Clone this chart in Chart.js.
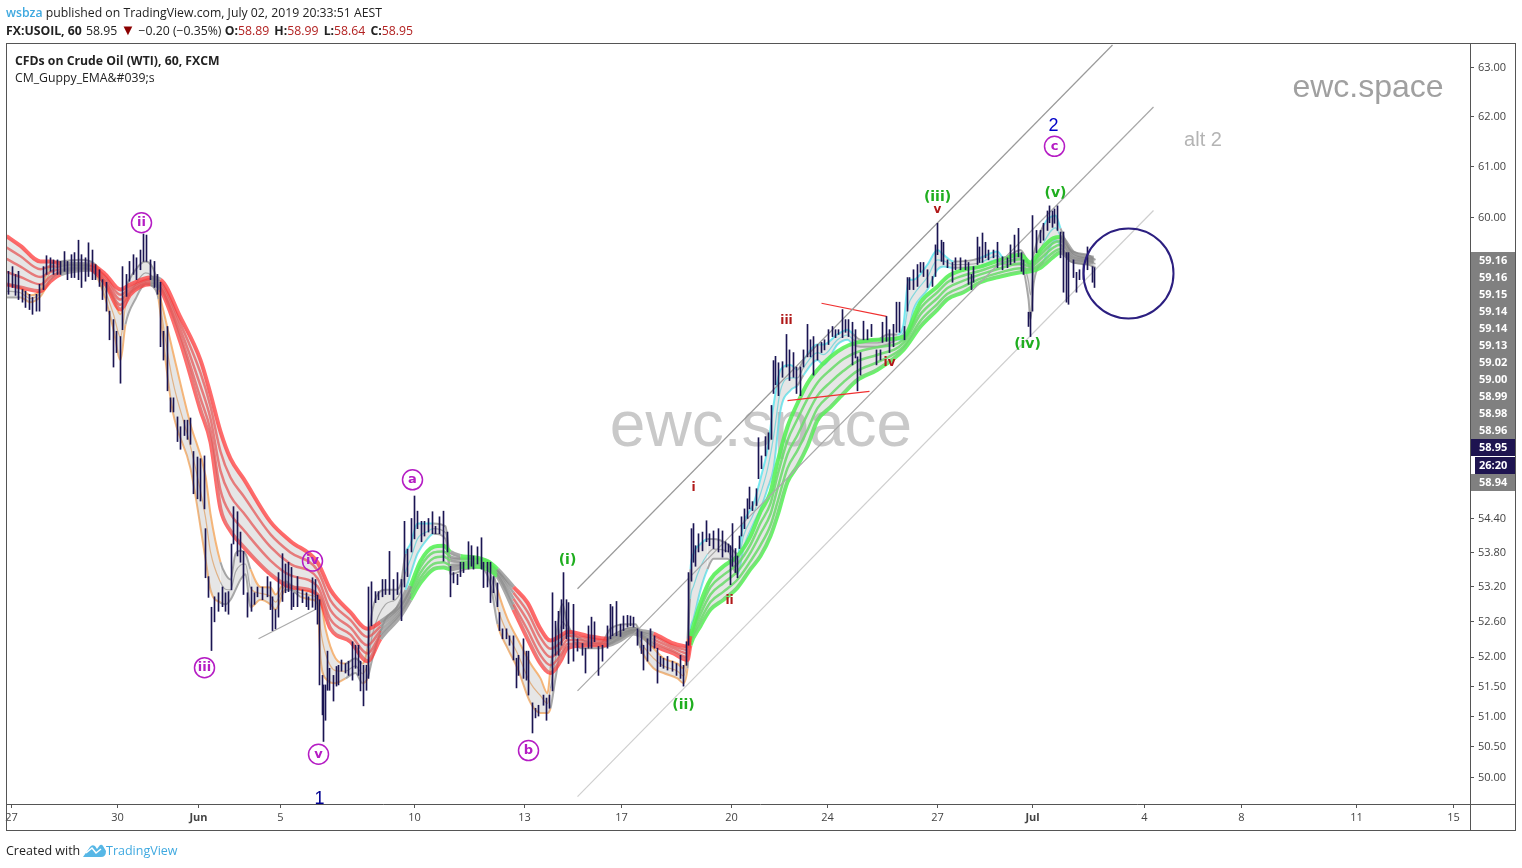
<!DOCTYPE html>
<html>
<head>
<meta charset="utf-8">
<title>FX:USOIL, 60</title>
<script src="https://cdn.jsdelivr.net/npm/chart.js@4"></script>
<style>
    body { margin: 0; background: #fff; font-family: "Open Sans", sans-serif; color: #222; }
    canvas { position: absolute; left: 0; top: 0; }
    .txt { position: absolute; white-space: pre; font-size: 12.25px; line-height: 16px; }
    .blue { color: #3fa9e0; }
    .red { color: #b22222; margin-right: 2px; }
    .down { color: #8b0000; font-size: 15px; line-height: 14px; }
</style>
</head>
<body>
<canvas id="chart" width="1522" height="868"></canvas>
<div class="txt" style="left:6px;top:5px"><span class="blue" style="font-weight:600">wsbza</span> published on TradingView.com, July 02, 2019 20:33:51 AEST</div>
<div class="txt" style="left:6px;top:22px"><b>FX:USOIL, 60</b> <span style="margin-left:1px">58.95</span> <span class="down">▼</span> −0.20 (−0.35%) <b>O:</b><span class="red">58.89</span> <b>H:</b><span class="red">58.99</span> <b>L:</b><span class="red">58.64</span> <b>C:</b><span class="red">58.95</span></div>
<div class="txt" style="left:15px;top:53px"><b>CFDs on Crude Oil (WTI), 60, FXCM</b></div>
<div class="txt" style="left:15px;top:70px">CM_Guppy_EMA&amp;#039;s</div>
<div class="txt" style="left:6px;top:843px;font-size:12.5px">Created with</div>
<svg style="position:absolute;left:83px;top:842px" width="23" height="16" viewBox="0 0 23 16"><path d="M0 15 L7 5 Q9 2 12 4 L14 7 L17 3 Q19 2 20 4 L23 9 Q23 15 18 15 Z" fill="#57b7e6"/><path d="M3 11 L9 6 L13 11 L18 7" stroke="#fff" stroke-width="1.5" fill="none"/></svg>
<div class="txt blue" style="left:106px;top:843px;font-size:12.5px">TradingView</div>

<script>
// time axis, session position on the compressed weekday scale
const tickPos = [5, 111, 192, 274, 408, 518, 615, 725, 821, 931, 1026, 1138, 1235, 1350, 1447];
const tickNames = ['27', '30', 'Jun', '5', '10', '13', '17', '20', '24', '27', 'Jul', '4', '8', '11', '15'];
const priceTicks = [63, 62, 61, 60, 54.4, 53.8, 53.2, 52.6, 52, 51.5, 51, 50.5, 50];

// USOIL hourly bars
const barPos = [
    2, 6, 9, 12, 16, 19, 23, 26, 30, 33,
    37, 40, 44, 47, 51, 54, 58, 61, 65, 68,
    72, 75, 79, 82, 86, 89, 93, 96, 100, 103,
    107, 110, 114, 116, 120, 123, 127, 130, 134, 137,
    140, 144, 148, 151, 154, 157, 161, 164, 167, 171,
    174, 178, 181, 184, 187, 191, 194, 198, 199, 202,
    205, 208, 212, 216, 219, 222, 225, 227, 231, 234,
    237, 241, 245, 248, 251, 256, 261, 264, 266, 269,
    272, 276, 279, 282, 285, 287, 291, 296, 300, 302,
    306, 309, 311, 313, 316, 317, 319, 321, 323, 327,
    330, 332, 335, 339, 342, 346, 349, 352, 354, 357,
    360, 362, 365, 369, 372, 376, 379, 383, 387, 391,
    395, 398, 401, 405, 408, 411, 415, 418, 422, 426,
    429, 433, 437, 441, 444, 447, 451, 454, 457, 462,
    465, 467, 471, 475, 477, 481, 484, 487, 491, 493,
    496, 500, 503, 507, 510, 512, 517, 520, 522, 526,
    529, 532, 537, 540, 543, 546, 549, 552, 555, 557,
    560, 562, 567, 571, 576, 579, 582, 585, 588, 592,
    596, 601, 604, 606, 610, 614, 617, 621, 624, 627,
    631, 635, 637, 641, 644, 648, 651, 654, 657, 661,
    666, 670, 674, 677, 680, 682, 685, 687, 689, 692,
    696, 700, 703, 707, 712, 716, 719, 722, 724, 726,
    729, 731, 733, 735, 738, 741, 743, 746, 750, 752,
    755, 759, 762, 765, 767, 769, 772, 776, 780, 783,
    787, 790, 794, 797, 801, 804, 807, 811, 815, 818,
    822, 826, 829, 832, 836, 839, 842, 846, 849, 851,
    854, 857, 861, 865, 870, 874, 876, 880, 883, 887,
    890, 893, 898, 901, 903, 907, 911, 914, 917, 921,
    926, 929, 931, 935, 937, 941, 946, 949, 954, 959,
    962, 965, 967, 971, 973, 976, 979, 982, 987, 991,
    996, 1001, 1004, 1008, 1012, 1015, 1017, 1022, 1024, 1026,
    1030, 1034, 1037, 1041, 1043, 1046, 1048, 1051, 1054, 1057,
    1060, 1062, 1067, 1070, 1073, 1077, 1081, 1086, 1088
];
const barHigh = [
    58.96, 59.05, 58.90, 58.96, 58.61, 58.58, 58.52, 58.46, 58.52, 58.71,
    59.05, 59.26, 59.22, 59.18, 59.18, 59.15, 59.34, 59.15, 59.28, 59.32,
    59.56, 59.28, 59.22, 59.51, 59.37, 59.09, 58.99, 58.80, 58.75, 58.20,
    58.04, 57.82, 57.72, 59.05, 58.90, 59.15, 59.28, 59.22, 59.37, 59.68,
    59.66, 59.18, 59.15, 58.90, 58.75, 57.82, 57.91, 56.58, 56.58, 56.23,
    56.05, 56.17, 56.17, 56.21, 55.60, 55.50, 55.47, 55.52, 54.22, 53.38,
    52.85, 53.03, 53.10, 53.20, 53.10, 53.12, 53.95, 54.61, 54.52, 54.16,
    53.82, 53.10, 53.20, 53.10, 53.20, 53.20, 53.38, 53.29, 53.03, 52.81,
    53.45, 53.78, 53.60, 53.63, 53.54, 53.10, 53.38, 53.15, 53.10, 53.03,
    53.36, 53.33, 53.06, 52.98, 51.69, 51.53, 51.53, 52.10, 51.81, 51.69,
    51.84, 51.86, 51.95, 51.89, 51.93, 52.26, 52.20, 52.20, 51.93, 51.86,
    51.86, 53.20, 53.29, 53.12, 53.12, 53.33, 53.33, 53.82, 53.33, 53.45,
    53.33, 54.35, 53.86, 54.40, 54.80, 54.53, 54.35, 54.35, 54.40, 54.52,
    54.26, 54.43, 54.53, 54.16, 53.56, 53.45, 53.42, 53.63, 53.63, 53.99,
    53.92, 53.74, 53.90, 54.06, 53.63, 53.63, 53.63, 53.38, 53.27, 52.76,
    52.48, 52.48, 52.36, 52.36, 51.98, 52.03, 52.31, 52.10, 52.10, 51.23,
    51.14, 51.19, 51.36, 51.31, 51.36, 53.10, 52.61, 52.78, 52.98, 53.45,
    52.98, 52.93, 52.90, 52.31, 52.23, 52.15, 52.53, 52.68, 52.60, 52.18,
    52.20, 52.53, 52.90, 52.86, 52.95, 52.56, 52.70, 52.71, 52.70, 52.68,
    52.48, 52.43, 52.20, 52.31, 52.48, 52.36, 52.15, 52.01, 51.98, 52.01,
    51.93, 51.89, 52.03, 51.86, 52.26, 53.45, 54.22, 54.31, 53.92, 54.13,
    54.16, 54.36, 54.13, 54.18, 54.22, 54.18, 53.99, 53.95, 53.92, 54.31,
    53.87, 53.74, 54.09, 54.43, 54.57, 54.75, 54.96, 54.70, 54.93, 55.85,
    55.52, 55.87, 55.94, 56.44, 57.27, 57.35, 57.23, 57.25, 57.76, 57.47,
    57.42, 57.15, 57.15, 57.47, 57.95, 57.66, 57.72, 57.57, 57.61, 57.66,
    57.85, 57.91, 57.85, 57.85, 58.23, 58.04, 58.04, 57.99, 57.85, 57.34,
    57.42, 58.01, 57.85, 57.95, 57.47, 57.47, 57.99, 58.10, 57.85, 57.95,
    58.37, 58.37, 57.91, 58.84, 58.84, 58.99, 59.09, 59.13, 59.13, 58.99,
    58.86, 59.47, 59.89, 59.56, 59.52, 59.18, 59.13, 59.22, 59.22, 59.18,
    59.13, 58.90, 59.05, 59.62, 59.43, 59.70, 59.52, 59.37, 59.37, 59.52,
    59.24, 59.22, 59.47, 59.66, 59.79, 59.32, 59.18, 58.18, 58.18, 60.04,
    59.75, 59.75, 59.89, 60.13, 60.23, 60.13, 60.17, 60.23, 59.72, 59.72,
    59.32, 59.32, 59.18, 58.94, 58.99, 59.09, 59.43, 59.05, 59.03
];
const barLow = [
    58.52, 58.65, 58.50, 58.42, 58.37, 58.27, 58.23, 58.14, 58.20, 58.20,
    58.61, 58.90, 58.96, 58.90, 58.90, 58.90, 58.96, 58.80, 58.84, 58.84,
    58.80, 58.65, 58.77, 58.86, 58.80, 58.80, 58.67, 58.42, 58.20, 57.66,
    57.15, 57.42, 56.85, 57.85, 58.48, 58.77, 58.90, 58.80, 58.99, 59.15,
    59.15, 58.80, 58.65, 58.52, 57.53, 57.28, 56.71, 56.32, 56.32, 55.78,
    55.64, 55.89, 55.82, 55.73, 54.84, 54.75, 54.71, 54.57, 53.36, 53.02,
    52.11, 52.60, 52.78, 52.86, 52.78, 52.73, 53.15, 53.95, 53.74, 53.63,
    53.07, 52.68, 52.78, 52.90, 53.03, 52.98, 53.03, 52.81, 52.45, 52.48,
    52.68, 52.95, 53.10, 53.12, 52.81, 52.86, 52.86, 52.93, 52.86, 52.81,
    52.85, 52.81, 52.56, 51.53, 51.03, 50.59, 50.94, 51.44, 51.44, 51.26,
    51.51, 51.53, 51.76, 51.73, 51.69, 51.61, 51.81, 51.69, 51.43, 51.18,
    51.44, 51.64, 52.53, 52.93, 52.98, 53.03, 53.07, 53.07, 52.98, 53.07,
    52.62, 53.20, 53.38, 53.81, 54.04, 54.22, 53.99, 54.09, 54.16, 54.13,
    54.13, 54.13, 53.65, 53.81, 53.03, 53.27, 53.24, 53.38, 53.45, 53.51,
    53.56, 53.51, 53.60, 53.51, 53.19, 53.20, 52.93, 53.10, 52.86, 52.45,
    52.31, 52.31, 52.20, 51.95, 51.48, 51.69, 51.64, 51.61, 51.36, 50.73,
    50.98, 51.01, 51.19, 50.94, 51.14, 51.43, 52.03, 52.03, 52.20, 52.48,
    52.31, 51.89, 51.93, 52.10, 52.03, 51.73, 52.15, 52.15, 52.26, 51.69,
    51.93, 52.15, 52.31, 52.36, 52.36, 52.35, 52.45, 52.51, 52.53, 52.51,
    52.20, 52.06, 51.78, 51.93, 52.10, 52.15, 51.56, 51.84, 51.81, 51.78,
    51.76, 51.69, 51.64, 51.51, 51.86, 52.20, 53.30, 53.63, 53.56, 53.81,
    53.83, 53.99, 53.92, 53.87, 53.81, 53.72, 53.81, 53.81, 53.24, 53.56,
    53.45, 53.36, 53.87, 54.09, 54.22, 54.40, 54.57, 54.54, 54.63, 55.11,
    55.29, 55.52, 55.64, 55.82, 56.66, 56.82, 56.62, 56.96, 57.15, 56.90,
    56.96, 56.66, 56.62, 57.15, 57.34, 57.34, 57.00, 57.28, 57.42, 57.47,
    57.57, 57.72, 57.70, 57.76, 57.70, 57.80, 57.72, 57.19, 57.32, 56.71,
    57.00, 57.66, 57.66, 57.72, 57.19, 57.28, 57.61, 57.63, 57.42, 57.53,
    57.80, 57.80, 57.66, 58.20, 58.61, 58.61, 58.67, 58.94, 58.86, 58.65,
    58.67, 58.86, 59.28, 59.15, 59.09, 59.03, 58.75, 58.99, 58.99, 58.99,
    58.71, 58.61, 58.75, 59.09, 59.13, 59.13, 59.22, 59.18, 59.22, 59.03,
    58.99, 59.03, 59.09, 59.13, 59.24, 58.96, 58.90, 57.91, 57.72, 58.20,
    59.32, 59.51, 59.56, 59.75, 59.90, 59.81, 59.89, 59.75, 59.22, 58.56,
    58.37, 58.33, 58.84, 58.56, 58.80, 58.80, 58.99, 58.75, 58.65
];

// slow EMA ribbon (outer edges and inner strands)
const slowPos = [
    0, 14, 34, 44, 54, 84, 99, 114, 124, 144, 154, 174, 194, 204, 214, 224, 237, 264, 284, 311,
    324, 344, 361, 374, 394, 404, 414, 427, 437, 444, 454, 467, 481, 491, 507, 521, 534, 544, 554, 561,
    581, 601, 611, 627, 634, 647, 667, 681, 684, 694, 704, 717, 731, 744, 754, 764, 771, 781, 791, 801,
    811, 824, 837, 851, 871, 897, 914, 931, 941, 957, 974, 994, 1014, 1024, 1034, 1047, 1054, 1067, 1087
];
const slowTop = [
    59.64, 59.45, 59.15, 59.15, 59.11, 59.09, 58.90, 58.61, 58.71, 58.84, 58.80, 58.08, 57.28, 56.65, 55.96, 55.47, 55.11, 54.34, 54.00, 53.63,
    53.15, 52.76, 52.48, 52.60, 52.90, 53.22, 53.65, 53.90, 53.92, 53.81, 53.74, 53.72, 53.65, 53.51, 53.20, 52.93, 52.48, 52.28, 52.36, 52.43,
    52.36, 52.31, 52.40, 52.48, 52.45, 52.40, 52.23, 52.18, 52.36, 52.93, 53.33, 53.56, 53.74, 54.09, 54.52, 54.87, 55.41, 56.05, 56.48, 56.85,
    57.10, 57.34, 57.51, 57.61, 57.66, 57.72, 58.37, 58.67, 58.86, 58.99, 59.05, 59.18, 59.28, 59.13, 59.37, 59.60, 59.62, 59.32, 59.22
];
const slowUpper = [
    59.42, 59.25, 59.00, 59.05, 59.05, 59.06, 58.85, 58.51, 58.65, 58.81, 58.75, 57.96, 57.04, 56.42, 55.60, 55.13, 54.80, 54.12, 53.80, 53.49,
    52.97, 52.63, 52.34, 52.52, 52.85, 53.16, 53.55, 53.80, 53.82, 53.73, 53.69, 53.68, 53.61, 53.48, 53.10, 52.77, 52.33, 52.14, 52.24, 52.36,
    52.32, 52.28, 52.36, 52.46, 52.42, 52.35, 52.19, 52.12, 52.32, 52.83, 53.20, 53.41, 53.60, 53.94, 54.32, 54.67, 55.17, 55.80, 56.19, 56.56,
    56.86, 57.10, 57.30, 57.43, 57.52, 57.66, 58.25, 58.56, 58.75, 58.88, 58.97, 59.10, 59.19, 59.09, 59.28, 59.51, 59.54, 59.27, 59.19
];
const slowMid = [
    59.20, 59.05, 58.85, 58.95, 59.00, 59.04, 58.80, 58.42, 58.60, 58.78, 58.70, 57.85, 56.80, 56.20, 55.25, 54.80, 54.50, 53.90, 53.60, 53.35,
    52.80, 52.50, 52.20, 52.45, 52.80, 53.10, 53.45, 53.70, 53.73, 53.66, 53.64, 53.64, 53.58, 53.45, 53.00, 52.62, 52.18, 52.00, 52.13, 52.29,
    52.28, 52.25, 52.33, 52.44, 52.40, 52.30, 52.15, 52.06, 52.28, 52.73, 53.07, 53.27, 53.47, 53.80, 54.13, 54.48, 54.93, 55.55, 55.90, 56.28,
    56.62, 56.87, 57.08, 57.26, 57.38, 57.60, 58.14, 58.45, 58.64, 58.78, 58.90, 59.02, 59.11, 59.05, 59.20, 59.42, 59.47, 59.23, 59.17
];
const slowLower = [
    58.95, 58.85, 58.71, 58.86, 58.95, 59.01, 58.75, 58.32, 58.56, 58.74, 58.65, 57.73, 56.57, 55.98, 54.90, 54.48, 54.20, 53.66, 53.40, 53.21,
    52.64, 52.38, 52.06, 52.38, 52.75, 53.04, 53.36, 53.60, 53.63, 53.58, 53.59, 53.60, 53.54, 53.41, 52.90, 52.46, 52.03, 51.86, 52.03, 52.22,
    52.24, 52.22, 52.29, 52.42, 52.38, 52.25, 52.10, 52.00, 52.24, 52.63, 52.94, 53.12, 53.33, 53.65, 53.93, 54.28, 54.69, 55.30, 55.62, 55.99,
    56.39, 56.64, 56.87, 57.08, 57.24, 57.53, 58.02, 58.34, 58.53, 58.67, 58.82, 58.94, 59.02, 59.00, 59.11, 59.33, 59.39, 59.19, 59.15
];
const slowBot = [
    58.71, 58.65, 58.58, 58.77, 58.90, 58.99, 58.71, 58.23, 58.52, 58.71, 58.61, 57.61, 56.35, 55.77, 54.57, 54.18, 53.90, 53.42, 53.20, 53.07,
    52.48, 52.26, 51.93, 52.31, 52.70, 52.98, 53.27, 53.51, 53.54, 53.51, 53.54, 53.56, 53.51, 53.38, 52.81, 52.31, 51.89, 51.73, 51.93, 52.15,
    52.20, 52.20, 52.26, 52.40, 52.36, 52.20, 52.06, 51.95, 52.20, 52.53, 52.81, 52.98, 53.19, 53.51, 53.74, 54.09, 54.45, 55.05, 55.34, 55.70,
    56.17, 56.41, 56.66, 56.91, 57.10, 57.47, 57.91, 58.23, 58.43, 58.56, 58.75, 58.86, 58.94, 58.96, 59.03, 59.24, 59.32, 59.15, 59.13
];
const slowZoneEnd = [54, 84, 130, 154, 369, 396, 438, 450, 488, 494, 601, 640, 682, 1054, 2000];
const slowZoneKind = ['r', 'n', 'r', 'n', 'r', 'n', 'g', 'n', 'g', 'n', 'r', 'n', 'r', 'g', 'n'];

// fast EMA ribbon (outer edges and a middle strand)
const fastPos = [
    0, 14, 24, 34, 44, 54, 74, 89, 99, 107, 114, 119, 129, 139, 149, 152, 159, 166, 184, 199,
    204, 214, 219, 224, 229, 234, 239, 244, 254, 264, 269, 279, 284, 294, 306, 311, 314, 319, 329, 339,
    349, 356, 361, 366, 379, 389, 394, 399, 404, 411, 421, 427, 439, 444, 459, 474, 484, 491, 501, 511,
    524, 534, 541, 544, 549, 556, 561, 574, 594, 604, 619, 629, 634, 647, 657, 671, 677, 681, 684, 687,
    694, 701, 707, 721, 731, 737, 747, 754, 761, 767, 774, 784, 791, 797, 811, 817, 831, 841, 847, 854,
    871, 881, 891, 897, 902, 907, 921, 931, 937, 947, 967, 974, 991, 997, 1014, 1022, 1024, 1027, 1037, 1049,
    1054, 1064, 1081, 1089
];
const fastTop = [
    58.71, 58.65, 58.50, 58.61, 59.09, 59.15, 59.18, 59.09, 58.71, 58.43, 58.14, 58.61, 58.99, 59.15, 58.90, 58.61, 58.04, 57.47, 56.09, 55.16,
    54.48, 53.63, 53.42, 53.33, 53.78, 53.83, 53.78, 53.51, 53.20, 53.19, 53.07, 53.30, 53.24, 53.15, 53.12, 53.07, 52.98, 52.48, 51.98, 51.89,
    51.98, 51.89, 52.15, 52.81, 53.15, 53.15, 53.24, 53.78, 53.95, 54.31, 54.31, 54.31, 54.26, 53.69, 53.69, 53.69, 53.60, 53.15, 52.65, 52.31,
    51.89, 51.64, 51.39, 51.81, 52.31, 52.90, 52.56, 52.31, 52.23, 52.48, 52.56, 52.56, 52.40, 52.15, 51.98, 51.89, 51.81, 52.31, 53.51, 53.78,
    53.95, 54.04, 54.04, 53.95, 53.78, 54.31, 54.66, 55.11, 55.64, 56.44, 57.10, 57.19, 57.10, 57.28, 57.57, 57.57, 57.76, 57.85, 57.76, 57.66,
    57.66, 57.76, 57.76, 57.95, 58.80, 58.80, 59.09, 59.37, 59.28, 59.15, 59.18, 59.22, 59.34, 59.22, 59.37, 59.09, 58.99, 59.28, 59.85, 60.04,
    59.79, 59.37, 59.28, 59.18
];
const fastMid = [
    58.58, 58.55, 58.44, 58.55, 58.95, 59.05, 59.10, 59.00, 58.57, 58.14, 57.71, 58.28, 58.71, 58.93, 58.75, 58.52, 57.66, 56.91, 55.69, 54.42,
    53.81, 53.28, 53.16, 53.15, 53.46, 53.58, 53.60, 53.18, 53.09, 53.04, 52.94, 53.22, 53.19, 53.09, 53.05, 52.98, 52.48, 52.06, 51.77, 51.76,
    51.85, 51.72, 51.89, 52.39, 52.90, 52.98, 53.11, 53.46, 53.68, 54.04, 54.17, 54.22, 54.15, 53.55, 53.60, 53.61, 53.42, 52.85, 52.40, 52.06,
    51.56, 51.35, 51.22, 51.47, 51.97, 52.60, 52.48, 52.23, 52.19, 52.35, 52.48, 52.50, 52.27, 51.98, 51.85, 51.76, 51.68, 52.06, 53.00, 53.21,
    53.55, 53.77, 53.86, 53.82, 53.60, 54.09, 54.48, 54.84, 55.28, 55.86, 56.72, 56.95, 56.95, 57.14, 57.42, 57.38, 57.66, 57.75, 57.66, 57.60,
    57.60, 57.66, 57.71, 57.80, 58.32, 58.51, 58.85, 59.18, 59.16, 59.09, 59.10, 59.13, 59.26, 59.15, 59.23, 58.76, 58.51, 58.99, 59.50, 59.80,
    59.63, 59.26, 59.18, 59.10
];
const fastBot = [
    58.46, 58.46, 58.37, 58.48, 58.80, 58.96, 59.03, 58.90, 58.43, 57.85, 57.28, 57.95, 58.43, 58.71, 58.61, 58.43, 57.28, 56.35, 55.29, 53.69,
    53.15, 52.93, 52.90, 52.98, 53.15, 53.33, 53.42, 52.85, 52.98, 52.90, 52.81, 53.15, 53.15, 53.03, 52.98, 52.90, 51.98, 51.64, 51.56, 51.64,
    51.73, 51.56, 51.64, 51.98, 52.65, 52.81, 52.98, 53.15, 53.42, 53.78, 54.04, 54.13, 54.04, 53.42, 53.51, 53.54, 53.24, 52.56, 52.15, 51.81,
    51.23, 51.06, 51.06, 51.14, 51.64, 52.31, 52.40, 52.15, 52.15, 52.23, 52.40, 52.45, 52.15, 51.81, 51.73, 51.64, 51.56, 51.81, 52.48, 52.65,
    53.15, 53.51, 53.69, 53.69, 53.42, 53.87, 54.31, 54.57, 54.93, 55.29, 56.35, 56.72, 56.81, 57.00, 57.28, 57.19, 57.57, 57.66, 57.57, 57.53,
    57.53, 57.57, 57.66, 57.66, 57.85, 58.23, 58.61, 58.99, 59.05, 59.03, 59.03, 59.05, 59.18, 59.09, 59.09, 58.43, 58.04, 58.71, 59.15, 59.56,
    59.47, 59.15, 59.09, 59.03
];
const fastZoneEnd = [8, 36, 89, 116, 150, 213, 242, 271, 290, 335, 352, 358, 396, 422, 490, 542, 634, 678, 682, 698, 729, 785, 794, 844, 886, 945, 971, 994, 1028, 1051, 2000];
const fastZoneKind = ['n', 'o', 'n', 'o', 'n', 'o', 'n', 'o', 'n', 'o', 'n', 'o', 'n', 'c', 'n', 'o', 'n', 'o', 'n', 'c', 'n', 'c', 'n', 'c', 'n', 'c', 'n', 'c', 'n', 'c', 'n'];

// drawn channels and small trend lines: [pos1, price1, pos2, price2]
const channelTop = [571, 53.17, 1106, 63.47];
const channelMid = [571, 51.43, 1147, 62.20];
const channelLow = [571, 49.69, 1147, 60.14];
const wedgeGrey = [252, 52.31, 309, 52.81];
const wedgeRedTop = [815, 58.35, 880, 58.10];
const wedgeRedLow = [781, 56.53, 863, 56.70];

// elliott wave labels
const circledNames = ['ii', 'iii', 'iv', 'v', 'a', 'b', 'c'];
const circledPos = [135, 198, 306, 312, 406, 522, 1048];
const circledPrice = [59.90, 51.82, 53.65, 50.38, 55.09, 50.44, 61.41];
const greenNames = ['(i)', '(ii)', '(iii)', '(iv)', '(v)'];
const greenPos = [561, 677, 931, 1021, 1049];
const greenPrice = [53.67, 51.19, 60.39, 57.57, 60.47];
const redNames = ['i', 'ii', 'iii', 'iv', 'v'];
const redPos = [687, 723, 780, 883, 931];
const redPrice = [54.94, 52.96, 58.01, 57.22, 60.16];
const sideValues = ['59.16', '59.16', '59.15', '59.14', '59.14', '59.13', '59.02', '59.00', '58.99', '58.98', '58.96'];

const ribbonColors = {
    r: 'rgba(255,55,55,0.74)', g: 'rgba(85,240,85,0.88)', n: 'rgba(135,135,135,0.72)',
    o: 'rgba(245,170,100,0.85)', c: 'rgba(95,230,240,0.85)'
};

function pairs(xs, ys) {
    return xs.map((x, i) => ({ x: x, y: ys[i] }));
}

function zoneColor(pos, ends, kinds) {
    const i = ends.findIndex(e => pos < e);
    return ribbonColors[kinds[i]];
}

function ribbonLine(label, xs, ys, ends, kinds, width, fillTarget, order) {
    return {
        type: 'line',
        label: label,
        data: pairs(xs, ys),
        borderWidth: width,
        pointRadius: 0,
        cubicInterpolationMode: 'monotone',
        fill: fillTarget,
        backgroundColor: 'rgba(165,165,165,0.28)',
        borderColor: ribbonColors.n,
        segment: { borderColor: ctx => zoneColor(ctx.p0.parsed.x, ends, kinds) },
        order: order
    };
}

function trendLine(seg, color) {
    return {
        type: 'line',
        data: [{ x: seg[0], y: seg[1] }, { x: seg[2], y: seg[3] }],
        borderColor: color,
        borderWidth: 1.2,
        pointRadius: 0,
        fill: false,
        order: 1
    };
}

// texts, watermark, frame and price tags that the scales do not draw
const overlayPlugin = {
    id: 'overlay',
    beforeDatasetsDraw(chart) {
        const c = chart.ctx;
        c.save();
        c.textAlign = 'center';
        c.textBaseline = 'middle';
        c.fillStyle = '#c9c9c9';
        c.font = '64px "Liberation Sans"';
        c.fillText('ewc.space', 761, 428);
        c.fillStyle = '#a0a0a0';
        c.font = '32px "Liberation Sans"';
        c.fillText('ewc.space', 1368, 88);
        c.fillStyle = '#b4b4b4';
        c.font = '20px "Liberation Sans"';
        c.fillText('alt 2', 1203, 140);
        c.restore();
    },
    afterDatasetsDraw(chart) {
        const c = chart.ctx;
        const xs = chart.scales.x;
        const ys = chart.scales.y;
        const put = (names, pos, price, color, font) => {
            c.fillStyle = color;
            c.font = font;
            names.forEach((t, i) => c.fillText(t, xs.getPixelForValue(pos[i]), ys.getPixelForValue(price[i])));
        };
        c.save();
        c.textAlign = 'center';
        c.textBaseline = 'middle';
        put(circledNames, circledPos, circledPrice, '#b51cc4', 'bold 13px "DejaVu Sans"');
        put(greenNames, greenPos, greenPrice, '#1fae1f', 'bold 14px "DejaVu Sans"');
        put(redNames, redPos, redPrice, '#b01818', 'bold 12px "DejaVu Sans"');
        put(['2'], [1047], [61.82], '#0000c8', '18px "Liberation Sans"');
        put(['1'], [313], [49.65], '#000090', '18px "Liberation Sans"');
        c.restore();
    },
    afterDraw(chart) {
        const c = chart.ctx;
        c.save();
        // side price tags for the last EMA values
        c.fillStyle = '#808080';
        c.fillRect(1471, 252, 44, 187);
        c.fillRect(1471, 474, 44, 17);
        c.fillStyle = '#1e1450';
        c.fillRect(1471, 439, 44, 17);
        c.fillRect(1475, 457, 40, 17);
        c.font = 'bold 11px "Open Sans"';
        c.textAlign = 'left';
        c.textBaseline = 'middle';
        c.fillStyle = '#fff';
        sideValues.forEach((t, i) => c.fillText(t, 1479, 260.5 + i * 17));
        c.fillText('58.95', 1479, 447.5);
        c.fillText('26:20', 1479, 465.5);
        c.fillText('58.94', 1479, 482.5);
        // frame
        c.strokeStyle = '#555';
        c.lineWidth = 1;
        c.strokeRect(6.5, 43.5, 1509, 787);
        c.beginPath();
        c.moveTo(1470.5, 44);
        c.lineTo(1470.5, 830);
        c.moveTo(6, 804.5);
        c.lineTo(1515, 804.5);
        c.stroke();
        c.restore();
    }
};

const datasets = [
    {
        type: 'bar',
        data: barPos.map((x, i) => ({ x: x, y: [barLow[i], barHigh[i]] })),
        backgroundColor: '#1a1452',
        barThickness: 1,
        order: 0
    },
    trendLine(channelTop, '#9a9a9a'),
    trendLine(channelMid, '#a8a8a8'),
    trendLine(channelLow, '#cfcfcf'),
    trendLine(wedgeGrey, '#aaaaaa'),
    trendLine(wedgeRedTop, '#f03030'),
    trendLine(wedgeRedLow, '#f03030'),
    ribbonLine('slow top', slowPos, slowTop, slowZoneEnd, slowZoneKind, 4, '+4', 3),
    ribbonLine('slow upper', slowPos, slowUpper, slowZoneEnd, slowZoneKind, 2.5, false, 3),
    ribbonLine('slow mid', slowPos, slowMid, slowZoneEnd, slowZoneKind, 2.5, false, 3),
    ribbonLine('slow lower', slowPos, slowLower, slowZoneEnd, slowZoneKind, 2.5, false, 3),
    ribbonLine('slow bottom', slowPos, slowBot, slowZoneEnd, slowZoneKind, 4, false, 3),
    ribbonLine('fast top', fastPos, fastTop, fastZoneEnd, fastZoneKind, 2, '+2', 4),
    ribbonLine('fast mid', fastPos, fastMid, fastZoneEnd, fastZoneKind, 1.2, false, 4),
    ribbonLine('fast bottom', fastPos, fastBot, fastZoneEnd, fastZoneKind, 2, false, 4),
    {
        type: 'scatter',
        data: pairs(circledPos, circledPrice),
        pointRadius: 10,
        pointBorderWidth: 1.5,
        pointBorderColor: '#b51cc4',
        pointBackgroundColor: 'rgba(0,0,0,0)',
        order: -1
    },
    {
        type: 'scatter',
        data: [{ x: 1122, y: 58.92 }],
        pointRadius: 45,
        pointBorderWidth: 2,
        pointBorderColor: '#2c1f80',
        pointBackgroundColor: 'rgba(0,0,0,0)',
        order: -1
    }
];

new Chart(document.getElementById('chart').getContext('2d'), {
    data: { datasets: datasets },
    plugins: [overlayPlugin],
    options: {
        responsive: false,
        animation: false,
        events: [],
        layout: { autoPadding: false, padding: { left: 6, top: 44, right: 7, bottom: 38 } },
        plugins: { legend: { display: false }, tooltip: { enabled: false } },
        scales: {
            x: {
                type: 'linear',
                offset: false,
                min: -0.5,
                max: 1463.5,
                afterBuildTicks: scale => { scale.ticks = tickPos.map(v => ({ value: v })); },
                afterFit: scale => { scale.height = 26; },
                border: { display: false },
                grid: { offset: false, drawOnChartArea: false, tickLength: 4, color: '#555' },
                ticks: {
                    autoSkip: false,
                    maxRotation: 0,
                    padding: 3,
                    color: '#444',
                    font: ctx => ({
                        family: '"Open Sans"',
                        size: 11,
                        weight: ['Jun', 'Jul'].includes(tickNames[ctx.index]) ? 'bold' : 'normal'
                    }),
                    callback: (v, i) => tickNames[i]
                }
            },
            y: {
                type: 'logarithmic',
                position: 'right',
                min: 49.57,
                max: 63.49,
                bounds: 'data',
                afterBuildTicks: scale => { scale.ticks = priceTicks.map(v => ({ value: v })); },
                afterFit: scale => { scale.width = 45; },
                border: { display: false },
                grid: { offset: false, drawOnChartArea: false, tickLength: 4, color: '#555' },
                ticks: {
                    autoSkip: false,
                    padding: 4,
                    color: '#444',
                    font: { family: '"Open Sans"', size: 11 },
                    callback: v => Number(v).toFixed(2)
                }
            }
        }
    }
});
</script>
</body>
</html>
